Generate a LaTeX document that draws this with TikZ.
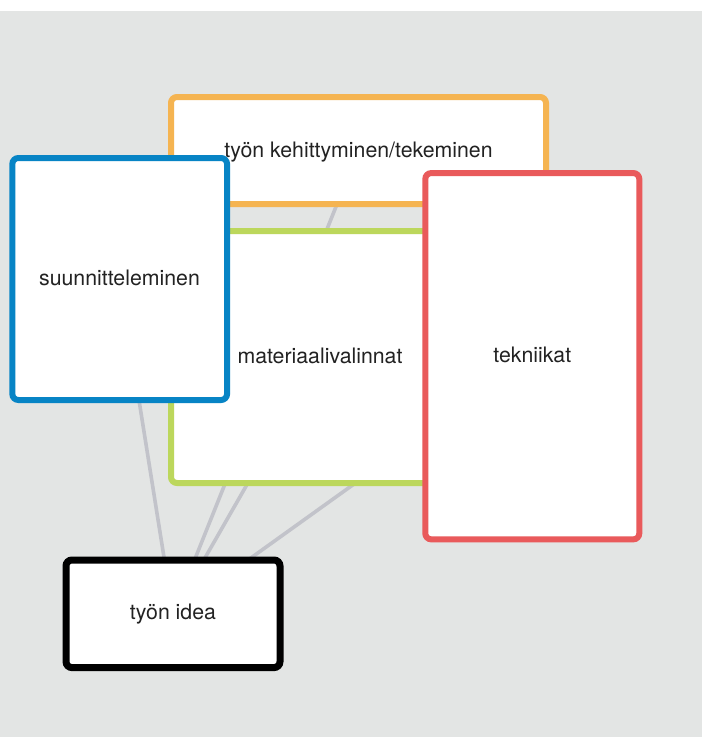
\documentclass[tikz,border=0pt]{standalone}
\usepackage{fontspec}
\setmainfont{TeX Gyre Heros}
\usetikzlibrary{backgrounds}
\definecolor{bggray}{HTML}{E3E5E4}
\definecolor{edgegray}{HTML}{C2C3CA}
\definecolor{cOrange}{HTML}{F5B451}
\definecolor{cGreen}{HTML}{BCD75C}
\definecolor{cBlue}{HTML}{0784C5}
\definecolor{cRed}{HTML}{E95A5B}
\definecolor{txt}{HTML}{222222}
\tikzset{
  box/.style={draw, fill=white, rectangle, rounded corners=6pt, line width=6pt,
    inner sep=0pt, outer sep=0pt, text=txt,
    font=\fontsize{21.3}{25}\selectfont},
  link/.style={draw=edgegray, line width=3.6pt},
}
\begin{document}
\begin{tikzpicture}[x=1pt,y=-1pt]
\useasboundingbox (0,0) rectangle (702,737);
\node[box, draw=cOrange, minimum width=375pt, minimum height=107pt] (kehitys) at (358.5,150.5) {};
\node[txt, font=\fontsize{21.3}{25}\selectfont, anchor=base] (kehitysT) at (358.5,157) {työn kehittyminen/tekeminen};
\node[box, draw=cGreen, minimum width=298pt, minimum height=252pt] (materiaali) at (320,357) {};
\node[txt, font=\fontsize{21.3}{25}\selectfont, anchor=base] (materiaaliT) at (320,363) {materiaalivalinnat};
\node[box, draw=cBlue, minimum width=214.7pt, minimum height=242pt] (suunnittelu) at (119.7,279) {};
\node[txt, font=\fontsize{21.3}{25}\selectfont, anchor=base] (suunnitteluT) at (119.5,285) {suunnitteleminen};
\node[box, draw=cRed, minimum width=214pt, minimum height=366.3pt] (tekniikat) at (532.3,356.2) {};
\node[txt, font=\fontsize{21.3}{25}\selectfont, anchor=base] (tekniikatT) at (532.3,362.7) {tekniikat};
\node[box, draw=black, line width=7pt, minimum width=214pt, minimum height=107.6pt] (idea) at (173,613.8) {};
\node[txt, font=\fontsize{21.3}{25}\selectfont, anchor=base] (ideaT) at (173,619.5) {työn idea};
\begin{scope}[on background layer]
  \fill[white] (0,0) rectangle (702,737);
  \fill[bggray] (0,11) rectangle (702,737);
  \path[link] (suunnittelu.center) -- (idea.center);
  \path[link] (kehitys.center) -- (idea.center);
  \path[link] (materiaali.center) -- (idea.center);
  \path[link] (tekniikat.center) -- (idea.center);
\end{scope}
\end{tikzpicture}
\end{document}
